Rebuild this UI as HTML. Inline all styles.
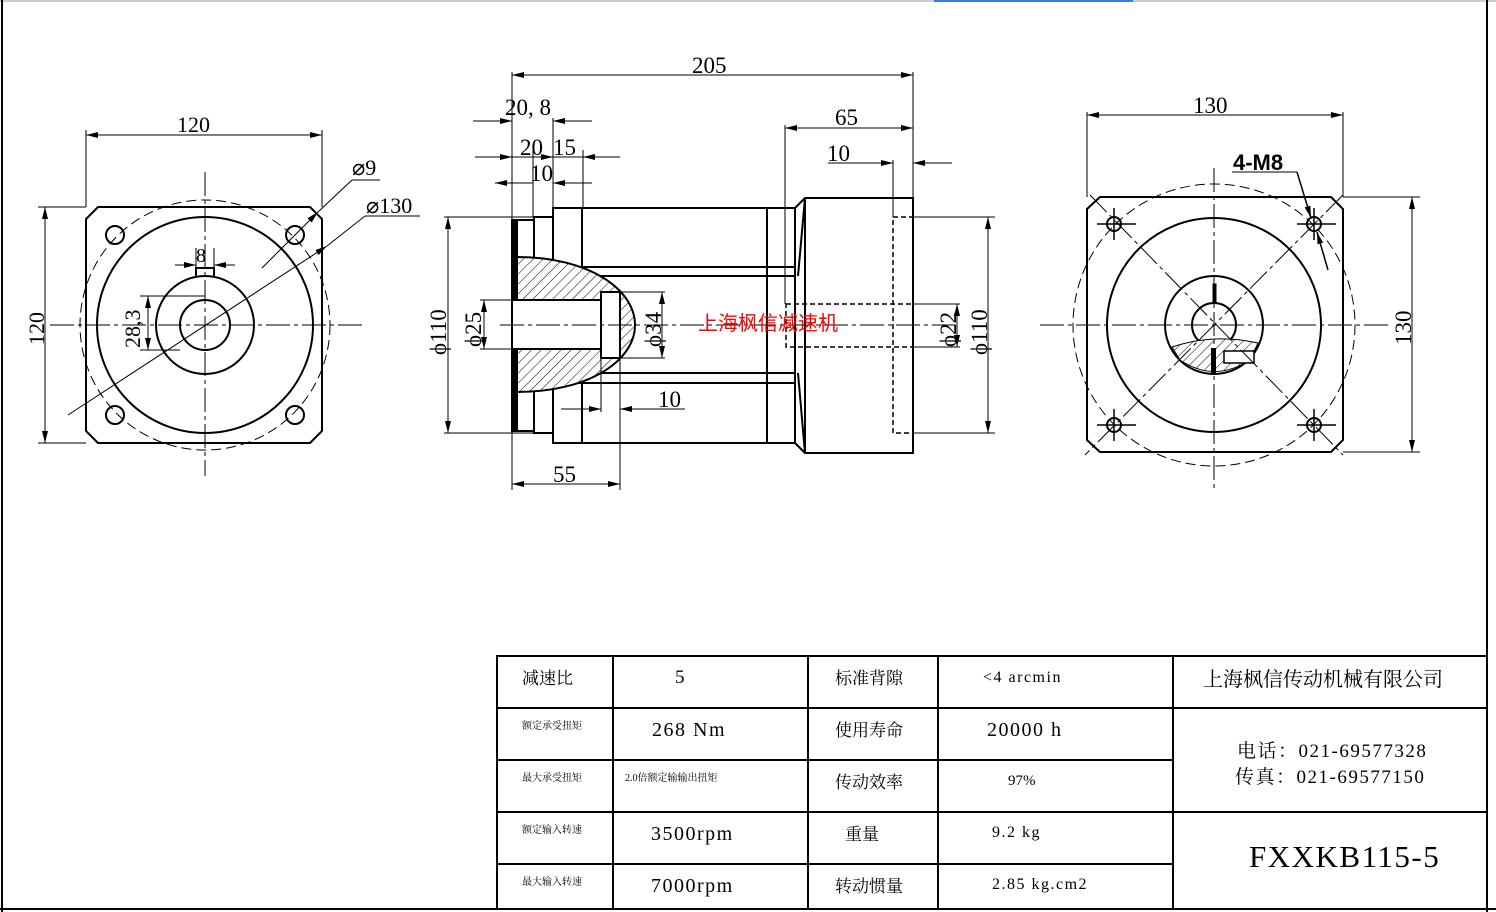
<!DOCTYPE html>
<html><head><meta charset="utf-8"><style>
html,body{margin:0;padding:0;background:#fff;}
svg{display:block;}
text{font-family:"Liberation Serif","Noto Serif CJK SC",serif;fill:#000;}
.cn{font-family:"Liberation Serif","Noto Sans CJK SC",sans-serif;}
.w{letter-spacing:1.5px;}
</style></head><body>
<svg width="1496" height="912" viewBox="0 0 1496 912" xmlns="http://www.w3.org/2000/svg">
<defs>
<marker id="a" viewBox="0 0 12 6" refX="12" refY="3" markerWidth="12" markerHeight="6" orient="auto-start-reverse" markerUnits="userSpaceOnUse"><path d="M0,0L12,3L0,6z" fill="#000"/></marker>
<pattern id="h" width="7" height="7" patternUnits="userSpaceOnUse" patternTransform="rotate(45)"><rect width="7" height="7" fill="#fff"/><line x1="0" y1="0" x2="0" y2="7" stroke="#000" stroke-width="1"/></pattern>
</defs>
<rect width="1496" height="912" fill="#fff"/>
<line x1="0" y1="1" x2="1496" y2="1" stroke="#999" stroke-width="1"/>
<line x1="934" y1="1" x2="1133" y2="1" stroke="#3b78e7" stroke-width="2"/>
<line x1="2" y1="0" x2="2" y2="912" stroke="#000" stroke-width="2"/>
<line x1="1487" y1="0" x2="1487" y2="912" stroke="#000" stroke-width="2"/>
<line x1="0" y1="909" x2="1496" y2="909" stroke="#000" stroke-width="2"/>

<!-- ===== LEFT VIEW ===== -->
<g fill="none" stroke="#000">
<path d="M98,207H310L322,219V431L310,443H98L86,431V219Z" stroke-width="2"/>
<circle cx="205" cy="325" r="108" stroke-width="2"/>
<circle cx="205" cy="325" r="125" stroke-width="1" stroke-dasharray="10,5"/>
<circle cx="205" cy="325" r="49" stroke-width="2"/>
<circle cx="205" cy="325" r="25" stroke-width="2"/>
<path d="M196,276V268H214V276" stroke-width="2"/>
<circle cx="115" cy="235" r="9" stroke-width="2"/><circle cx="295" cy="235" r="9" stroke-width="2"/>
<circle cx="115" cy="415" r="9" stroke-width="2"/><circle cx="295" cy="415" r="9" stroke-width="2"/>
<g stroke-width="1" stroke-dasharray="24,4,4,4">
<line x1="50" y1="325" x2="362" y2="325"/><line x1="205" y1="172" x2="205" y2="476"/>
</g>
<g stroke-width="1">
<line x1="86" y1="207" x2="86" y2="130"/><line x1="322" y1="207" x2="322" y2="130"/>
<line x1="86" y1="135" x2="322" y2="135" marker-start="url(#a)" marker-end="url(#a)"/>
<line x1="86" y1="207" x2="38" y2="207"/><line x1="86" y1="443" x2="38" y2="443"/>
<line x1="45" y1="207" x2="45" y2="443" marker-start="url(#a)" marker-end="url(#a)"/>
<line x1="175" y1="265" x2="196" y2="265" marker-end="url(#a)"/><line x1="235" y1="265" x2="214" y2="265" marker-end="url(#a)"/>
<line x1="196" y1="248" x2="196" y2="268"/><line x1="214" y1="248" x2="214" y2="268"/>
<line x1="140" y1="296" x2="205" y2="296"/><line x1="140" y1="350" x2="180" y2="350"/>
<line x1="148" y1="296" x2="148" y2="350" marker-start="url(#a)" marker-end="url(#a)"/>
<line x1="262" y1="268" x2="318" y2="212" marker-end="url(#a)"/><line x1="318" y1="212" x2="352" y2="180"/><line x1="352" y1="180" x2="380" y2="180"/>
<line x1="68" y1="415" x2="327" y2="246" marker-end="url(#a)"/><line x1="327" y1="246" x2="365" y2="216"/><line x1="365" y1="216" x2="420" y2="216"/>
</g>
</g>
<g font-size="22">
<text x="177" y="132">120</text>
<text x="44" y="345" transform="rotate(-90 44 345)">120</text>
<text x="196" y="262" font-size="20">8</text>
<text x="140" y="348" transform="rotate(-90 140 348)" font-size="22">28,3</text>
<text x="352" y="175">⌀9</text>
<text x="366" y="213">⌀130</text>
</g>

<!-- ===== MIDDLE VIEW ===== -->
<g fill="none" stroke="#000" stroke-width="2">
<rect x="512" y="220" width="5" height="211" fill="#000"/>
<rect x="517" y="220" width="17" height="211"/>
<rect x="534" y="217" width="19" height="216"/>
<path d="M553,208H795V443H553Z"/>
<line x1="582" y1="208" x2="582" y2="443"/>
<line x1="767" y1="208" x2="767" y2="443"/>
<path d="M553,267H795M553,276H795M553,373H795M553,383H795"/>
<path d="M795,208L805,198M798,276L805,198M795,443L805,453M798,373L805,453"/>
<rect x="805" y="198" width="108" height="255"/>
<path d="M517,257 C590,257 635,290 635,325 C635,360 590,392 517,392 Z" fill="url(#h)"/>
<rect x="512" y="300" width="89" height="49" fill="#fff"/>
<rect x="601" y="292" width="19" height="66" fill="#fff"/>
</g>
<g fill="none" stroke="#000" stroke-width="1.5" stroke-dasharray="5,3">
<rect x="893" y="217" width="20" height="216"/>
<rect x="786" y="304" width="127" height="43"/>
</g>
<line x1="500" y1="325" x2="955" y2="325" stroke="#000" stroke-width="1" stroke-dasharray="24,4,4,4"/>
<g fill="none" stroke="#000" stroke-width="1">
<line x1="512" y1="72" x2="512" y2="490"/><line x1="913" y1="72" x2="913" y2="198"/>
<line x1="512" y1="75" x2="913" y2="75" marker-start="url(#a)" marker-end="url(#a)"/>
<line x1="473" y1="121" x2="512" y2="121" marker-end="url(#a)"/><line x1="592" y1="121" x2="553" y2="121" marker-end="url(#a)"/>
<line x1="553" y1="118" x2="553" y2="208"/>
<line x1="475" y1="157" x2="512" y2="157" marker-end="url(#a)"/><line x1="512" y1="157" x2="533" y2="157"/>
<line x1="533" y1="157" x2="553" y2="157" marker-end="url(#a)"/><line x1="620" y1="157" x2="583" y2="157" marker-end="url(#a)"/>
<line x1="553" y1="157" x2="583" y2="157"/>
<line x1="533" y1="150" x2="533" y2="217"/><line x1="583" y1="150" x2="583" y2="208"/>
<line x1="495" y1="183" x2="533" y2="183" marker-start="url(#a)"/><line x1="592" y1="183" x2="553" y2="183" marker-end="url(#a)"/>
<line x1="785" y1="125" x2="785" y2="304"/>
<line x1="785" y1="128" x2="913" y2="128" marker-start="url(#a)" marker-end="url(#a)"/>
<line x1="828" y1="163" x2="893" y2="163" marker-end="url(#a)"/><line x1="952" y1="163" x2="913" y2="163" marker-end="url(#a)"/>
<line x1="893" y1="160" x2="893" y2="217"/>
<line x1="444" y1="217" x2="534" y2="217"/><line x1="444" y1="433" x2="534" y2="433"/>
<line x1="448" y1="217" x2="448" y2="433" marker-start="url(#a)" marker-end="url(#a)"/>
<line x1="480" y1="300" x2="512" y2="300"/><line x1="480" y1="349" x2="512" y2="349"/>
<line x1="484" y1="300" x2="484" y2="349" marker-start="url(#a)" marker-end="url(#a)"/>
<line x1="620" y1="292" x2="665" y2="292"/><line x1="620" y1="358" x2="665" y2="358"/>
<line x1="662" y1="292" x2="662" y2="358" marker-start="url(#a)" marker-end="url(#a)"/>
<line x1="913" y1="304" x2="960" y2="304"/><line x1="913" y1="347" x2="960" y2="347"/>
<line x1="957" y1="304" x2="957" y2="347" marker-start="url(#a)" marker-end="url(#a)"/>
<line x1="913" y1="217" x2="995" y2="217"/><line x1="913" y1="433" x2="995" y2="433"/>
<line x1="988" y1="217" x2="988" y2="433" marker-start="url(#a)" marker-end="url(#a)"/>
<line x1="601" y1="358" x2="601" y2="412"/><line x1="620" y1="358" x2="620" y2="490"/>
<line x1="561" y1="409" x2="601" y2="409" marker-end="url(#a)"/><line x1="685" y1="409" x2="620" y2="409" marker-end="url(#a)"/>
<line x1="512" y1="484" x2="620" y2="484" marker-start="url(#a)" marker-end="url(#a)"/>
</g>
<g font-size="23">
<text x="692" y="73">205</text>
<text x="505" y="115">20, 8</text>
<text x="520" y="155">20</text><text x="553" y="155">15</text>
<text x="530" y="181">10</text>
<text x="835" y="125">65</text>
<text x="827" y="161">10</text>
<text x="658" y="407">10</text>
<text x="553" y="482">55</text>
<text x="446" y="355" transform="rotate(-90 446 355)">ϕ110</text>
<text x="481" y="347" transform="rotate(-90 481 347)">ϕ25</text>
<text x="661" y="347" transform="rotate(-90 661 347)">ϕ34</text>
<text x="956" y="347" transform="rotate(-90 956 347)">ϕ22</text>
<text x="987" y="355" transform="rotate(-90 987 355)">ϕ110</text>
</g>
<text x="698" y="330" font-size="20" class="cn" style="fill:#f00">上海枫信减速机</text>

<!-- ===== RIGHT VIEW ===== -->
<g fill="none" stroke="#000">
<path d="M1100,197H1331L1343,209V440L1331,452H1100L1087,440V209Z" stroke-width="2"/>
<circle cx="1214" cy="325" r="107" stroke-width="2"/>
<circle cx="1214" cy="325" r="141" stroke-width="1" stroke-dasharray="10,5"/>
<circle cx="1214" cy="325" r="49" stroke-width="2"/>
<circle cx="1214" cy="325" r="22" stroke-width="2"/>
<path d="M1172,347 Q1214,333 1258,343 L1250,360 Q1214,383 1180,360Z" fill="url(#h)" stroke-width="1"/>
<rect x="1224" y="351" width="30" height="12" fill="#fff" stroke-width="1.5"/>
<rect x="1213" y="284" width="3" height="18" fill="#000"/>
<rect x="1211" y="348" width="5" height="26" fill="#000" stroke="none"/>
<g stroke-width="2"><circle cx="1114" cy="224" r="7"/><circle cx="1314" cy="224" r="7"/><circle cx="1114" cy="425" r="7"/><circle cx="1314" cy="425" r="7"/></g>
<g stroke-width="1.5"><path d="M1097,224H1136M1114,208V240M1297,224H1336M1314,208V240M1097,425H1136M1114,409V441M1297,425H1336M1314,409V441"/></g>
<g stroke-width="1" stroke-dasharray="24,4,4,4">
<line x1="1040" y1="325" x2="1390" y2="325"/><line x1="1214" y1="168" x2="1214" y2="488"/>
<line x1="1090" y1="195" x2="1343" y2="455"/><line x1="1343" y1="195" x2="1085" y2="455"/>
</g>
<g stroke-width="1">
<line x1="1087" y1="197" x2="1087" y2="112"/><line x1="1343" y1="197" x2="1343" y2="112"/>
<line x1="1087" y1="115" x2="1343" y2="115" marker-start="url(#a)" marker-end="url(#a)"/>
<line x1="1343" y1="197" x2="1420" y2="197"/><line x1="1343" y1="452" x2="1420" y2="452"/>
<line x1="1412" y1="197" x2="1412" y2="452" marker-start="url(#a)" marker-end="url(#a)"/>
<line x1="1232" y1="172" x2="1297" y2="172"/>
<line x1="1297" y1="172" x2="1311" y2="218" marker-end="url(#a)" stroke-width="1.5"/>
<line x1="1328" y1="270" x2="1317" y2="232" marker-end="url(#a)" stroke-width="1.5"/>
</g>
</g>
<g font-size="23">
<text x="1193" y="113">130</text>
<text x="1411" y="345" transform="rotate(-90 1411 345)">130</text>
</g>
<text x="1233" y="170" font-size="22" style="font-family:'Liberation Sans',sans-serif;font-weight:bold">4-M8</text>

<!-- ===== TABLE ===== -->
<g fill="none" stroke="#000" stroke-width="2">
<rect x="497" y="656" width="990" height="253"/>
<path d="M613,656V909M808,656V909M938,656V909M1173,656V909"/>
<path d="M497,708H1173M497,760H1173M497,812H1173M497,864H1173"/>
<path d="M1173,708H1487M1173,812H1487"/>
</g>
<g class="cn" font-size="17">
<text x="522" y="684">减速比</text>
<text x="675" y="683" font-size="19">5</text>
<text x="835" y="684">标准背隙</text>
<text x="983" y="682" font-size="16" class="w">&lt;4 arcmin</text>
<text x="1203" y="686" font-size="20">上海枫信传动机械有限公司</text>
<text x="522" y="729" font-size="10">额定承受扭矩</text>
<text x="652" y="736" font-size="20" class="w">268 Nm</text>
<text x="835" y="736">使用寿命</text>
<text x="987" y="736" font-size="20" class="w">20000 h</text>
<text x="1237" y="757" font-size="19" class="w">电话：021-69577328</text>
<text x="1235" y="783" font-size="19" class="w">传真：021-69577150</text>
<text x="522" y="781" font-size="10">最大承受扭矩</text>
<text x="625" y="781" font-size="10">2.0倍额定输输出扭矩</text>
<text x="835" y="788">传动效率</text>
<text x="1008" y="785" font-size="15">97%</text>
<text x="522" y="833" font-size="10">额定输入转速</text>
<text x="651" y="840" font-size="20" class="w">3500rpm</text>
<text x="845" y="840">重量</text>
<text x="992" y="837" font-size="16" class="w">9.2  kg</text>
<text x="1249" y="867" font-size="31" class="w">FXXKB115-5</text>
<text x="522" y="885" font-size="10">最大输入转速</text>
<text x="651" y="892" font-size="20" class="w">7000rpm</text>
<text x="835" y="892">转动惯量</text>
<text x="992" y="889" font-size="16" class="w">2.85 kg.cm2</text>
</g>
</svg>
</body></html>
